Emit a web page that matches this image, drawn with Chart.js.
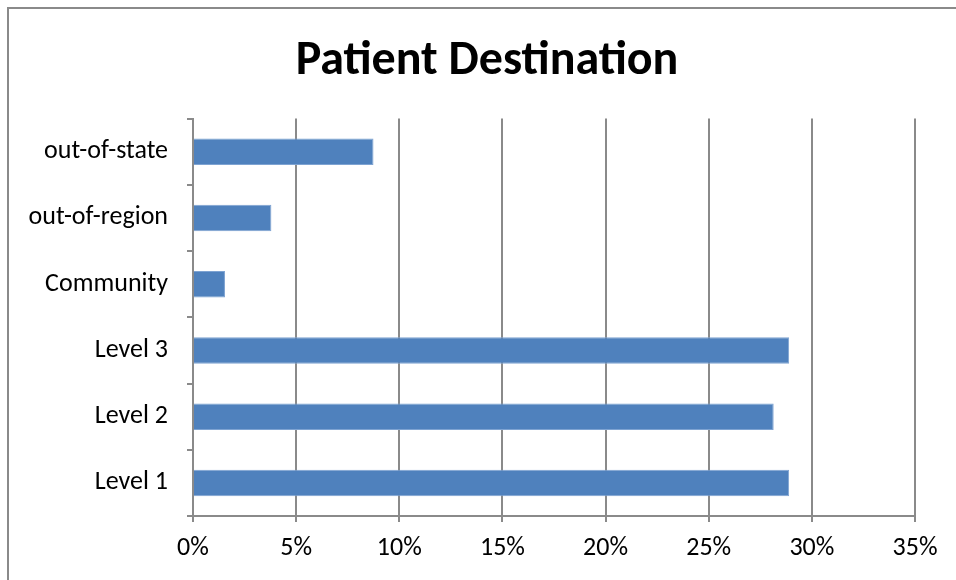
<!DOCTYPE html>
<html>
<head>
<meta charset="utf-8">
<script src="https://cdn.jsdelivr.net/npm/chart.js@4"></script>
<style>
    html, body { margin: 0; padding: 0; background: #fff; overflow: hidden; }
    #wrap { position: relative; width: 956px; height: 580px; }
    #frame {
        position: absolute; left: 7px; top: 7px; width: 1000px; height: 700px;
        border-left: 2px solid #8a8a8a; border-top: 2px solid #8a8a8a;
        pointer-events: none;
    }
    canvas { position: absolute; left: 0; top: 0; }
</style>
</head>
<body>
<div id="wrap">
    <canvas id="destChart" width="956" height="580"></canvas>
    <div id="frame"></div>
</div>
<script>
// Patient destination chart data (percent of patients)
const destinations = ['out-of-state', 'out-of-region', 'Community', 'Level 3', 'Level 2', 'Level 1'];
const destPercent = [8.75, 3.8, 1.55, 28.9, 28.15, 28.9];
const axisMax = 35;
const axisStep = 5;

const fontFamily = "Carlito, Lato, 'Open Sans', sans-serif";
const gridGray = '#8a8a8a';
const padLeft = 20;
const padRight = 2;

const ctx = document.getElementById('destChart').getContext('2d');

const destChart = new Chart(ctx, {
    type: 'bar',
    data: {
        labels: destinations,
        datasets: [{
            label: 'Patient Destination',
            data: destPercent,
            backgroundColor: '#4f81bd',
            borderColor: '#7ea3d2',
            borderWidth: 1,
            barPercentage: 0.4,
            categoryPercentage: 1.0
        }]
    },
    options: {
        indexAxis: 'y',
        responsive: false,
        animation: false,
        layout: {
            padding: { left: padLeft, right: padRight, top: 0, bottom: 0 }
        },
        plugins: {
            legend: { display: false },
            tooltip: { enabled: false },
            title: {
                display: true,
                text: 'Patient Destination',
                color: '#000',
                font: { family: fontFamily, size: 48, weight: 'bold', lineHeight: 1.2 },
                padding: { top: 33, bottom: 28 }
            }
        },
        scales: {
            x: {
                min: 0,
                max: axisMax,
                ticks: {
                    stepSize: axisStep,
                    color: '#000',
                    font: { family: fontFamily, size: 26 },
                    padding: 11,
                    maxRotation: 0,
                    callback: function(value) {
                        return value + '%';
                    }
                },
                grid: {
                    color: gridGray,
                    lineWidth: 2,
                    tickLength: 6
                },
                border: { color: gridGray, width: 2 },
                afterFit: function(scale) {
                    scale.height = 64;
                }
            },
            y: {
                ticks: {
                    color: '#000',
                    font: { family: fontFamily, size: 26 },
                    padding: 19
                },
                grid: {
                    display: true,
                    drawOnChartArea: false,
                    color: gridGray,
                    lineWidth: 2,
                    tickLength: 6,
                    offset: true
                },
                border: { color: gridGray, width: 2 },
                afterFit: function(scale) {
                    scale.width = 193 - padLeft;
                }
            },
            // empty right-hand space, as in the original plot area
            yRight: {
                type: 'linear',
                position: 'right',
                ticks: { display: false },
                grid: { display: false },
                border: { display: false },
                afterFit: function(scale) {
                    scale.width = 39;
                }
            }
        }
    }
});
</script>
</body>
</html>
